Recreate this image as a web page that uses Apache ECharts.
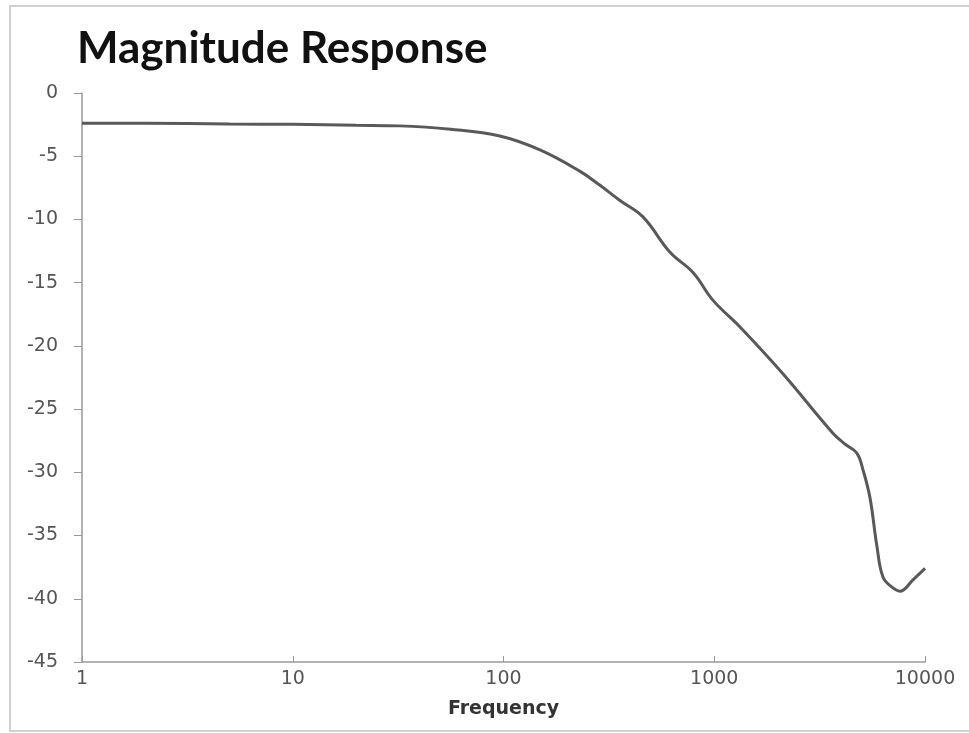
<!DOCTYPE html>
<html>
<head>
<meta charset="utf-8">
<script src="https://cdn.jsdelivr.net/npm/echarts@6/dist/echarts.min.js"></script>
<style>html,body{margin:0;padding:0;background:#fff;}#c{width:969px;height:733px;}</style>
</head>
<body>
<div id="c"></div>
<script>
var titleText = "Magnitude Response";
var xAxisName = "Frequency";
var frequencies = [1, 2, 5, 10, 20, 32, 56, 96, 149, 231, 287, 357, 459, 617, 793, 987, 1325, 2118, 3657, 4200, 4756, 5078, 5480, 5920, 6323, 7000, 7606, 8770, 10000];
var magnitudes = [-2.4, -2.4, -2.45, -2.48, -2.55, -2.6, -2.87, -3.4, -4.5, -6.2, -7.3, -8.5, -9.8, -12.6, -14.2, -16.4, -18.5, -22.2, -26.9, -27.8, -28.5, -29.8, -32, -35.9, -38.3, -39.1, -39.4, -38.5, -37.6];

var seriesData = frequencies.map(function (f, i) { return [f, magnitudes[i]]; });

var chart = echarts.init(document.getElementById('c'));
chart.setOption({
  animation: false,
  backgroundColor: '#fff',
  title: {
    text: titleText,
    left: 72,
    top: 22,
    textStyle: { fontFamily: 'Lato', fontWeight: 'bold', fontSize: 44, color: '#111' }
  },
  graphic: [{
    type: 'rect',
    shape: { x: 10, y: 6, width: 990, height: 725 },
    style: { fill: 'none', stroke: '#d0d0d0', lineWidth: 2 },
    silent: true
  }],
  grid: { left: 82, right: 44, top: 93, bottom: 71 },
  xAxis: {
    type: 'log',
    logBase: 10,
    min: 1,
    max: 10000,
    name: xAxisName,
    nameLocation: 'middle',
    nameGap: 38,
    nameTextStyle: { fontFamily: 'DejaVu Sans', fontWeight: 'bold', fontSize: 19, color: '#333' },
    axisLine: { onZero: false, lineStyle: { color: '#999', width: 1.5 } },
    axisTick: { show: true, inside: true, length: 6, lineStyle: { color: '#999' } },
    axisLabel: {
      fontFamily: 'DejaVu Sans', fontSize: 19, color: '#555', margin: 8,
      formatter: function (v) { return String(Math.round(v)); }
    },
    splitLine: { show: false },
    minorTick: { show: false }
  },
  yAxis: {
    type: 'value',
    min: -45,
    max: 0,
    interval: 5,
    axisLine: { show: true, lineStyle: { color: '#999', width: 1.5 } },
    axisTick: { show: true, inside: false, length: 8, lineStyle: { color: '#999' } },
    axisLabel: { fontFamily: 'DejaVu Sans', fontSize: 19, color: '#555', margin: 24 },
    splitLine: { show: false }
  },
  series: [{
    type: 'line',
    data: seriesData,
    smooth: 0.4,
    showSymbol: false,
    lineStyle: { color: '#595959', width: 3 }
  }]
});
</script>
</body>
</html>
